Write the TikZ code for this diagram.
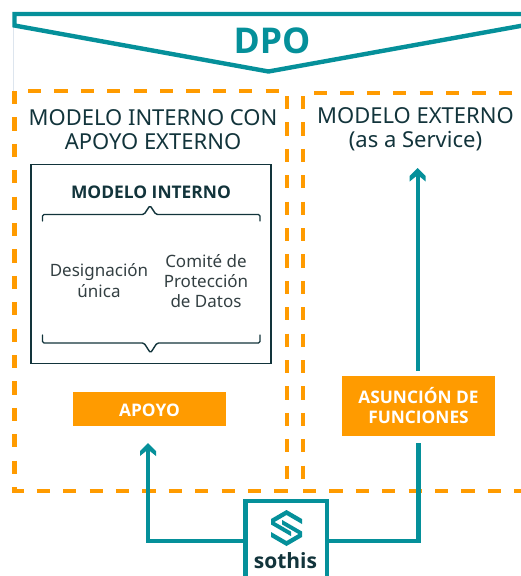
\documentclass[tikz,border=0pt]{standalone}
\usepackage{fontspec}
\setmainfont{Noto Sans}
\newfontfamily\heavy{Open Sans}[Scale=1.0]
\definecolor{teal}{HTML}{05909A}
\definecolor{orng}{HTML}{FF9B00}
\definecolor{ink}{HTML}{12343B}
\definecolor{gry}{HTML}{333F42}
\definecolor{pale}{HTML}{DDE5EE}
\tikzset{
  dashline/.style={draw=orng,line width=4.2pt,dash pattern=on 13.2pt off 13.2pt},
  tealline/.style={draw=teal,line width=4.4pt,line join=miter},
  brace/.style={draw=ink,line width=1.4pt,line join=round,line cap=round,rounded corners=1.5pt},
  title/.style={align=center,text=ink,font=\fontsize{22}{23.5}\selectfont},
  body/.style={align=center,text=gry,font=\fontsize{17}{20.2}\selectfont},
  label/.style={fill=orng,text=white,align=center,font=\heavy\fontsize{17.3}{20.5}\selectfont\bfseries,inner sep=0pt},
  tip/.style={fill=teal,draw=none}
}
\begin{document}
\begin{tikzpicture}[x=1pt,y=-1pt]
\useasboundingbox (0,0) rectangle (521,576);
% banner
\draw[pale,line width=1.5pt] (13.5,26) -- (13.5,92);
\coordinate (bl) at (14.5,25.5);
\coordinate (bt) at (14.5,14);
\coordinate (btr) at (523,14);
\coordinate (bp) at (268.5,71.5);
\coordinate (br) at (523,25.5);
\draw[tealline] (btr) -- (bt) -- (bl) -- (bp) -- (br);
\node[text=teal,font=\heavy\fontsize{35.5}{38}\selectfont\bfseries] (dpo) at (272,40.5) {DPO};
% dashed frames
\draw[dashline] (14.5,91) -- (14.5,490);
\draw[dashline] (28,91) -- (280,91);
\draw[dashline] (287.3,96) -- (287.3,480);
\draw[dashline] (303,96) -- (303,480);
\draw[dashline] (314,93) -- (523,93);
\draw[dashline,dash phase=2pt] (12.3,491) -- (289,491);
\draw[dashline] (303,491) -- (523,491);
% titles
\node[title] (tint) at (153,129.5) {MODELO INTERNO CON\\APOYO EXTERNO};
\node[title] (text) at (415.5,129.5) {MODELO EXTERNO\\(as a Service)};
% inner box
\node[draw=ink,line width=1.5pt,minimum width=240pt,minimum height=199pt,inner sep=0pt] (ibox) at (151,264) {};
\node[text=ink,font=\heavy\fontsize{17.4}{20}\selectfont\bfseries] (ititle) at (151,192) {MODELO INTERNO};
\draw[brace] (42.5,221) -- (42.5,214.5) -- (144,214.5) -- (150,205.5) -- (156,214.5) -- (260,214.5) -- (260,221);
\draw[brace] (42.5,335) -- (42.5,343) -- (144,343) -- (150.5,353) -- (157,343) -- (260,343) -- (260,335);
\node[body] (desig) at (99,280.5) {Designación\\única};
\node[body] (comite) at (206,281) {Comité de\\Protección\\de Datos};
% orange labels
\node[label,minimum width=153pt,minimum height=34pt] (apoyo) at (149.5,409) {};
\node[text=white,font=\heavy\fontsize{17.3}{20.5}\selectfont\bfseries] (apoyot) at (149.5,410.5) {APOYO};
\node[label,minimum width=153pt,minimum height=60pt] (asun) at (418.5,405.5) {ASUNCIÓN DE\\FUNCIONES};
% logo box
\node[draw=teal,line width=4.4pt,fill=white,minimum width=81.5pt,minimum height=90pt,inner sep=0pt] (logo) at (286.3,546) {};
\node[text=ink,font=\heavy\fontsize{21}{24}\selectfont\bfseries] (soth) at (285.5,561) {sothis};
\fill[teal] (286.5,510) -- (302,519) -- (302,524) -- (286.5,515) -- (274.5,522) -- (291,531.6) -- (291,536.1) -- (271,524.5) -- (271,519) -- cycle;
\fill[teal] (286.5,546) -- (271,537) -- (271,532) -- (286.5,541) -- (298.5,534) -- (282,524.4) -- (282,519.9) -- (302,531.5) -- (302,537) -- cycle;
% connectors
\coordinate (c1) at (148,541);
\coordinate (c2) at (418.5,541);
\coordinate (t1) at (148,447);
\coordinate (t2) at (418.5,443);
\draw[tealline] (logo.west |- c1) -- (c1) -- (t1);
\draw[tealline] (logo.east |- c2) -- (c2) -- (t2);
\fill[tip] (148,443) -- (156,451) -- (156,456) -- (148,449.5) -- (140,456) -- (140,451) -- cycle;
\coordinate (t3) at (417.7,172);
\draw[tealline] (417.7,371) -- (t3);
\fill[tip] (417.7,168) -- (425.7,176) -- (425.7,181.5) -- (417.7,175) -- (409.7,181.5) -- (409.7,176) -- cycle;
\end{tikzpicture}
\end{document}
